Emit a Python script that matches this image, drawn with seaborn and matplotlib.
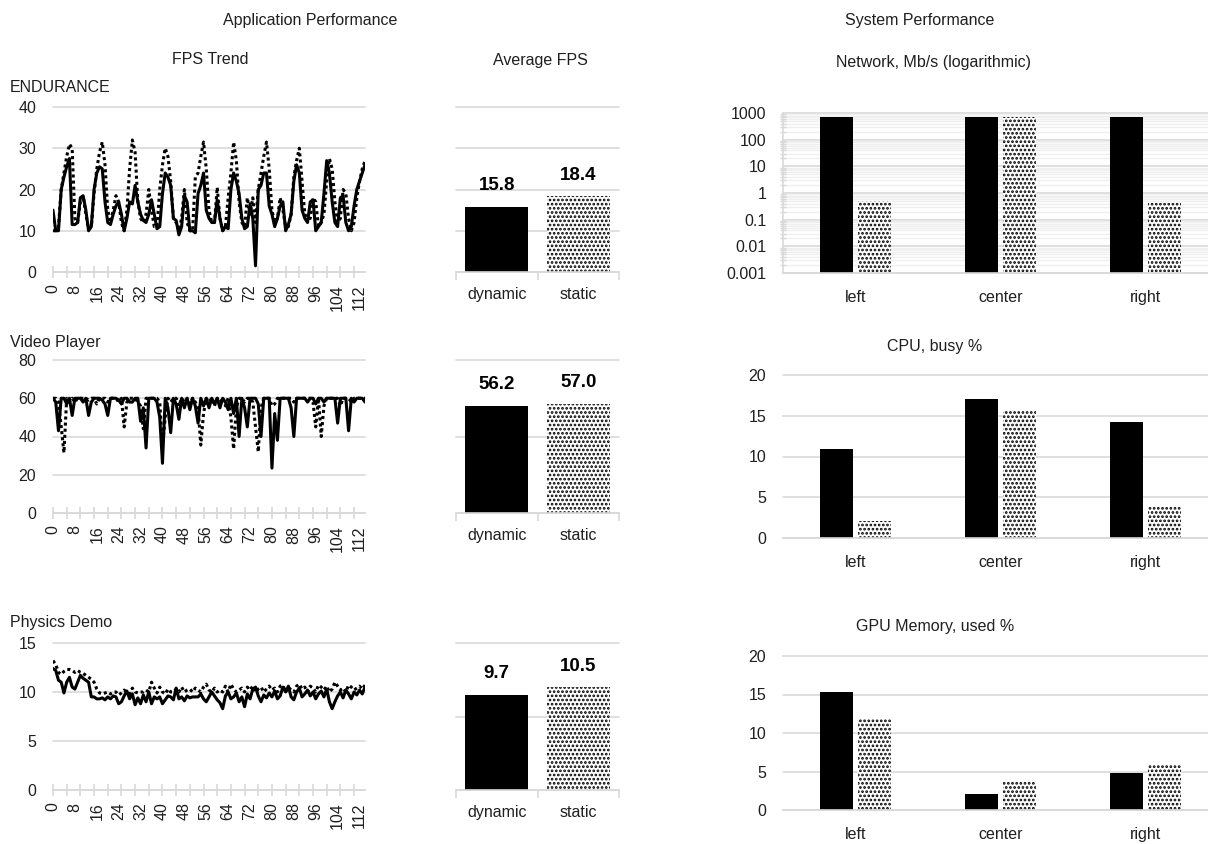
import numpy as np
import pandas as pd
import matplotlib
matplotlib.use("Agg")
import matplotlib.pyplot as plt
import seaborn as sns
from matplotlib.ticker import MultipleLocator, FixedLocator, LogLocator, NullFormatter

# ---------------- data ----------------
modes = ["dynamic", "static"]
sides = ["left", "center", "right"]

endurance_dynamic = [
    15, 10, 10, 20, 23, 25.5, 27.5, 11.5, 11.5, 12,
    18, 18.5, 15, 10, 11, 20, 24, 25.5, 25, 17,
    12, 11.5, 14, 16, 17, 14, 10, 13, 17, 16.5,
    21, 17, 14, 12.5, 12, 14, 17.5, 14, 10.5, 11,
    19, 24, 23, 21, 13, 12.5, 9, 11, 18.5, 17,
    10, 10, 9.5, 19, 21, 24, 15, 13, 12, 12,
    17.5, 13, 10, 11, 10.5, 20, 24, 22, 19, 13,
    10.5, 11, 16.5, 13, 1.5, 20, 21, 24, 24, 16,
    14, 11, 13, 16, 17, 10, 11.5, 14, 22, 26,
    24, 15, 13, 12, 17, 17.5, 10, 11, 12, 19,
    27, 24, 17, 12, 11, 18, 18.5, 12, 10, 11,
    16, 20, 22, 24, 26,
]
endurance_static = [
    10, 10, 11, 20, 24, 28, 31, 30, 13, 12,
    17, 18.5, 14, 10.5, 11, 19, 25, 29, 31.5, 26,
    15, 12, 15, 18.5, 17, 12, 10, 15, 25, 32,
    29, 17, 13, 12, 14, 20, 15, 11, 11, 20,
    26, 30, 28, 22, 13, 12, 10, 13, 20, 12,
    10, 10, 23, 24, 28, 31.5, 25, 15, 12, 12,
    20.5, 13, 10, 11, 18, 24, 31.5, 27, 17, 12,
    11, 18, 14, 18, 12, 20, 24, 28, 31.5, 25,
    15, 12, 13, 18, 15, 11, 11, 14, 23, 27,
    30, 22, 14, 13, 13, 18, 17, 11, 12, 14,
    22, 27.5, 25, 17, 12, 13, 20, 19, 13, 10,
    12, 18, 22, 25, 27,
]

video_dynamic = [
    60, 58, 43, 60, 60, 57, 60, 51, 60, 60,
    60, 58, 60, 51, 58, 60, 60, 60, 59, 57,
    51, 60, 60, 60, 59, 57, 60, 60, 58, 58,
    60, 60, 48, 55, 34, 60, 60, 60, 58, 50,
    26, 60, 55, 42, 60, 57, 49, 60, 55, 60,
    54, 60, 56, 47, 60, 56, 60, 55, 60, 57,
    60, 55, 60, 58, 54, 60, 52, 60, 40, 60,
    55, 45, 60, 60, 60, 57, 40, 60, 60, 60,
    23.5, 52, 38, 60, 60, 60, 60, 55, 40, 60,
    60, 60, 60, 58, 60, 60, 57, 60, 60, 58,
    60, 60, 60, 60, 47, 60, 60, 60, 43, 60,
    58, 60, 60, 60, 58,
]
video_static = [
    60, 60, 58, 45, 31.5, 60, 58, 60, 58, 60,
    60, 60, 60, 59, 60, 60, 57, 60, 60, 60,
    58, 60, 60, 60, 58, 60, 45, 58, 60, 60,
    60, 58, 56, 44, 60, 60, 60, 60, 60, 58,
    34.5, 50, 60, 58, 60, 60, 56, 60, 58, 60,
    57, 60, 58, 55, 35.5, 52, 60, 58, 60, 56,
    60, 58, 60, 56, 60, 50, 33.5, 55, 60, 60,
    58, 60, 60, 58, 45, 32, 55, 60, 60, 60,
    56, 57, 60, 60, 60, 60, 60, 60, 58, 60,
    60, 60, 60, 60, 60, 58, 45, 60, 40, 56,
    60, 60, 60, 60, 60, 56, 60, 60, 60, 58,
    60, 60, 60, 60, 60,
]

physics_dynamic = [
    12.4, 12.2, 11.2, 11.0, 9.9, 11.0, 11.5, 10.5, 10.3, 11.0, 11.7, 11.4, 11.2, 11.0, 9.5, 9.5,
    9.3, 9.3, 9.4, 9.2, 9.5, 9.3, 9.6, 9.5, 8.8, 9.0, 9.6, 10.1, 9.3, 9.8, 8.7,
    9.4, 8.8, 9.7, 9.0, 10.0, 8.8, 9.5, 9.3, 9.5, 8.8, 9.2, 9.6, 9.5, 9.2, 10.4,
    9.3, 9.5, 9.1, 9.6, 9.4, 9.5, 9.5, 9.5, 9.8, 9.3, 9.0, 9.5, 10.0, 9.6, 9.2,
    8.9, 8.3, 9.6, 10.0, 9.3, 9.5, 9.9, 9.0, 9.5, 8.5, 9.8, 9.3, 10.3, 10.5, 9.6,
    9.0, 9.7, 9.4, 9.9, 9.5, 10.1, 9.3, 9.6, 10.5, 10.0, 10.6, 9.5, 9.2, 10.0, 10.4,
    9.5, 9.8, 10.2, 9.6, 10.0, 9.3, 9.8, 10.1, 9.5, 10.3, 9.0, 8.3, 9.0, 9.6, 10.0,
    9.4, 10.2, 9.8, 9.3, 10.0, 9.7, 10.2, 9.8, 10.5,
]
physics_static = [
    13.2, 12.8, 12.0, 11.8, 12.1, 12.3, 12.3, 12.2, 12.0, 12.2, 12.0, 11.9, 11.7, 11.5, 11.3, 11.0,
    10.3, 9.9, 9.8, 9.9, 10.0, 9.8, 10.0, 10.0, 9.7, 9.9, 10.2, 10.0, 9.8, 10.4, 10.0,
    9.9, 10.0, 10.0, 10.2, 10.0, 11.0, 10.4, 9.9, 10.5, 10.0, 9.8, 10.3, 10.0, 10.0, 10.3,
    10.0, 10.5, 10.0, 10.2, 10.3, 10.0, 10.4, 10.2, 10.0, 10.5, 10.8, 10.2, 10.0, 10.4, 10.0,
    10.2, 10.0, 10.6, 10.0, 10.8, 10.3, 10.0, 10.2, 10.4, 10.0, 10.5, 10.2, 10.6, 10.0, 10.3,
    10.5, 10.0, 10.3, 10.6, 10.2, 10.4, 10.0, 10.6, 10.7, 10.0, 10.5, 10.2, 10.0, 10.6, 10.8,
    10.3, 10.5, 10.0, 10.6, 10.4, 10.0, 10.7, 10.5, 10.2, 10.6, 10.0, 10.3, 11.0, 10.6, 10.2,
    10.4, 10.0, 10.7, 10.5, 10.2, 10.4, 10.6, 10.3, 10.7,
]

avg_endurance = [15.8, 18.4]
avg_video = [56.2, 57.0]
avg_physics = [9.7, 10.5]

network_dynamic = [700, 710, 700]
network_static = [0.52, 700, 0.43]
cpu_dynamic = [10.9, 17.1, 14.2]
cpu_static = [2.1, 15.7, 3.9]
gpu_dynamic = [15.3, 2.1, 4.8]
gpu_static = [12.0, 3.8, 5.8]

# ---------------- style ----------------
sns.set_theme(style="white")
plt.rcParams["font.family"] = ["Liberation Sans", "DejaVu Sans"]
plt.rcParams["hatch.linewidth"] = 1.3

GRID = "#d9d9d9"
MINOR_GRID = "#efefef"
TEXT = "#1f1f1f"
FS = 11.5
HATCH = "...."
PALETTE = {"dynamic": "black", "static": "white"}

W, H = 1208, 844
fig = plt.figure(figsize=(W / 100, H / 100), dpi=100)
fig.patch.set_facecolor("white")


def axes_px(x0, y0, x1, y1):
    return fig.add_axes([x0 / W, 1 - y1 / H, (x1 - x0) / W, (y1 - y0) / H])


def label(x, y, s, ha="center"):
    fig.text(x / W, 1 - y / H, s, ha=ha, va="center", fontsize=FS, color=TEXT)


def clean(ax):
    for s in ("left", "right", "top"):
        ax.spines[s].set_visible(False)
    ax.spines["bottom"].set_color(GRID)
    ax.spines["bottom"].set_linewidth(1.2)
    ax.set_axisbelow(True)
    ax.set_xlabel("")
    ax.set_ylabel("")


def trend(ax, dyn, sta, ymax, ystep):
    n = len(dyn)
    frame = np.arange(n)
    df = pd.DataFrame({
        "frame": np.concatenate([frame, frame]),
        "fps": np.concatenate([dyn, sta]),
        "mode": np.repeat(modes, n),
    })
    sns.lineplot(data=df, x="frame", y="fps", style="mode", style_order=modes,
                 dashes={"dynamic": "", "static": (1, 1)}, color="black",
                 linewidth=2.2, legend=False, ax=ax)
    ax.set_xlim(0, n - 1)
    ax.set_ylim(0, ymax)
    ax.set_yticks(np.arange(0, ymax + ystep / 2, ystep))
    ax.set_xticks(np.arange(0, n, 8))
    ax.xaxis.set_minor_locator(MultipleLocator(5))
    ax.xaxis.remove_overlapping_locs = False
    ax.tick_params(axis="x", which="major", length=0, pad=9, labelrotation=90,
                   labelsize=FS, labelcolor=TEXT)
    ax.tick_params(axis="x", which="minor", length=8, direction="inout",
                   color=GRID, width=1.2, bottom=True)
    ax.tick_params(axis="y", length=0, pad=12, labelsize=FS, labelcolor=TEXT)
    ax.yaxis.grid(True, color=GRID, linewidth=1.2)
    for gl in ax.get_ygridlines():
        gl.set_clip_on(False)
    clean(ax)


def averages(ax, vals, ymax, ystep):
    df = pd.DataFrame({"mode": modes, "fps": vals})
    sns.barplot(data=df, x="mode", y="fps", hue="mode", hue_order=modes,
                palette=PALETTE, width=0.77, errorbar=None, legend=False, ax=ax,
                edgecolor="black", linewidth=0, saturation=1)
    for bar in ax.patches:
        if bar.get_facecolor()[0] > 0.5:
            bar.set_hatch(HATCH)
    for c in ax.containers:
        ax.bar_label(c, fmt="%.1f", padding=9, fontsize=13.5, fontweight="bold",
                     color="black")
    ax.set_xlim(-0.5, 1.5)
    ax.set_ylim(0, ymax)
    ax.set_yticks(np.arange(0, ymax + ystep / 2, ystep))
    ax.set_yticklabels([])
    ax.xaxis.set_minor_locator(FixedLocator([-0.5, 0.5, 1.5]))
    ax.tick_params(axis="x", which="major", length=0, pad=11, labelsize=FS,
                   labelcolor=TEXT)
    ax.tick_params(axis="x", which="minor", length=6, direction="out",
                   color=GRID, width=1.2, bottom=True)
    ax.tick_params(axis="y", length=0)
    ax.yaxis.grid(True, color=GRID, linewidth=1.2)
    for gl in ax.get_ygridlines():
        gl.set_clip_on(False)
    clean(ax)


def system(ax, dyn, sta, log=False):
    df = pd.DataFrame({
        "side": sides * 2,
        "value": list(dyn) + list(sta),
        "mode": np.repeat(modes, len(sides)),
    })
    sns.barplot(data=df, x="side", y="value", hue="mode", hue_order=modes,
                order=sides, palette=PALETTE, width=0.52, gap=0.13,
                errorbar=None, legend=False, ax=ax, edgecolor="black",
                linewidth=0, saturation=1)
    for bar in ax.patches:
        if bar.get_facecolor()[0] > 0.5:
            bar.set_hatch(HATCH)
    ax.set_xlim(-0.5, 2.5)
    ax.tick_params(axis="x", length=0, pad=12, labelsize=FS, labelcolor=TEXT)
    ax.tick_params(axis="y", which="major", length=0, pad=12, labelsize=FS,
                   labelcolor=TEXT)
    if log:
        ax.set_yscale("log")
        ax.set_ylim(0.001, 1000)
        ticks = [0.001, 0.01, 0.1, 1, 10, 100, 1000]
        ax.set_yticks(ticks)
        ax.set_yticklabels(["0.001", "0.01", "0.1", "1", "10", "100", "1000"])
        ax.yaxis.set_minor_locator(LogLocator(base=10, subs=np.arange(2, 10)))
        ax.yaxis.set_minor_formatter(NullFormatter())
        ax.yaxis.grid(True, which="minor", color=MINOR_GRID, linewidth=1.0)
        ax.tick_params(axis="y", which="minor", length=5, direction="inout",
                       color=GRID, width=1.0, left=True)
    else:
        ax.set_ylim(0, 20)
        ax.set_yticks(np.arange(0, 21, 5))
    ax.yaxis.grid(True, which="major", color=GRID, linewidth=1.2)
    for gl in ax.get_ygridlines():
        gl.set_clip_on(False)
    clean(ax)
    if log:
        ax.spines["left"].set_visible(True)
        ax.spines["left"].set_color(GRID)
        ax.spines["left"].set_linewidth(1.2)


# ---------------- application performance ----------------
trend(axes_px(53, 107, 365, 272), endurance_dynamic, endurance_static, 40, 10)
trend(axes_px(53, 360, 365, 513), video_dynamic, video_static, 80, 20)
trend(axes_px(53, 643, 365, 790), physics_dynamic, physics_static, 15, 5)

averages(axes_px(456, 107, 619, 272), avg_endurance, 40, 10)
averages(axes_px(456, 360, 619, 513), avg_video, 80, 40)
averages(axes_px(456, 643, 619, 790), avg_physics, 15, 7.5)

# ---------------- system performance ----------------
system(axes_px(783, 113, 1218, 273), network_dynamic, network_static, log=True)
system(axes_px(783, 375, 1218, 538), cpu_dynamic, cpu_static)
system(axes_px(783, 656, 1218, 810), gpu_dynamic, gpu_static)

# ---------------- titles ----------------
label(310, 20, "Application Performance")
label(920, 20, "System Performance")
label(210, 60, "FPS Trend")
label(540, 60, "Average FPS")
label(933, 63, "Network, Mb/s (logarithmic)")
label(935, 347, "CPU, busy %")
label(935, 627, "GPU Memory, used %")
label(10, 88, "ENDURANCE", ha="left")
label(10, 343, "Video Player", ha="left")
label(10, 622, "Physics Demo", ha="left")

fig.savefig("out.png", dpi=100)
